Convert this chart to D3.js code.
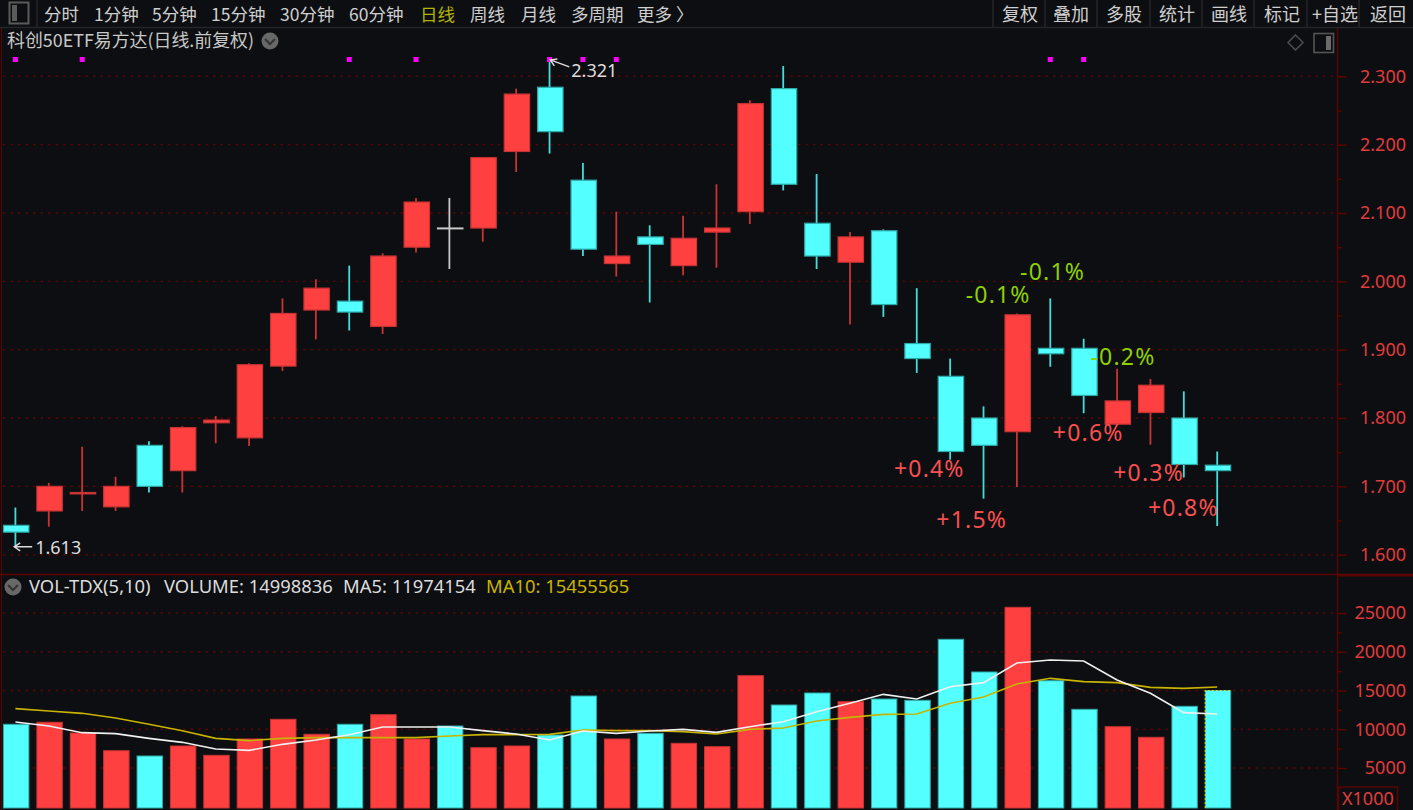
<!DOCTYPE html>
<html>
<head>
<meta charset="utf-8">
<title>科创50ETF易方达</title>
<script src="https://cdn.jsdelivr.net/npm/d3@7"></script>
<style>
  html, body { margin: 0; padding: 0; background: #0d0e11; overflow: hidden; }
  svg { display: block; font-family: "Noto Sans CJK SC", "Noto Sans", sans-serif; }
</style>
</head>
<body>
<svg id="canvas"></svg>
<script>
// candles, left to right. rising candles are red, falling ones cyan
let opens = [1.643, 1.664, 1.689, 1.670, 1.760, 1.723, 1.793, 1.771, 1.876, 1.958, 1.971, 1.934, 2.050, 2.078, 2.078, 2.190, 2.284, 2.148, 2.026, 2.065, 2.023, 2.072, 2.102, 2.282, 2.085, 2.028, 2.074, 1.909, 1.861, 1.800, 1.780, 1.902, 1.902, 1.791, 1.808, 1.800, 1.731];
let closes = [1.633, 1.700, 1.691, 1.700, 1.700, 1.786, 1.797, 1.878, 1.953, 1.990, 1.955, 2.037, 2.116, 2.078, 2.181, 2.274, 2.219, 2.047, 2.037, 2.054, 2.063, 2.078, 2.260, 2.142, 2.037, 2.065, 1.966, 1.887, 1.751, 1.760, 1.951, 1.894, 1.833, 1.825, 1.848, 1.732, 1.723];
let highs = [1.669, 1.705, 1.758, 1.714, 1.766, 1.788, 1.803, 1.880, 1.975, 2.003, 2.023, 2.041, 2.122, 2.122, 2.181, 2.282, 2.321, 2.173, 2.102, 2.082, 2.096, 2.142, 2.265, 2.315, 2.157, 2.072, 2.076, 1.990, 1.887, 1.817, 1.953, 1.975, 1.916, 1.872, 1.857, 1.839, 1.751];
let lows = [1.613, 1.641, 1.664, 1.664, 1.691, 1.691, 1.763, 1.759, 1.869, 1.915, 1.928, 1.923, 2.042, 2.018, 2.058, 2.160, 2.187, 2.037, 2.007, 1.969, 2.009, 2.020, 2.084, 2.133, 2.018, 1.937, 1.948, 1.866, 1.739, 1.682, 1.699, 1.875, 1.807, 1.791, 1.761, 1.713, 1.642];

// volume panel, in units of 1000
let volumes = [10640, 10900, 9516, 7232, 6548, 7839, 6639, 8742, 11284, 9348, 10640, 11877, 8742, 10419, 7619, 7839, 9258, 14290, 8742, 9477, 8187, 7748, 16910, 13129, 14677, 13555, 13903, 13735, 21606, 17387, 25735, 16265, 12574, 10329, 8961, 12961, 14999];
let ma5 = [10935, 10419, 9559, 9430, 8828, 8312, 7452, 7280, 8054, 8613, 9301, 10290, 10290, 10290, 9817, 9387, 8613, 9774, 9473, 9774, 9989, 9602, 10333, 10978, 12269, 13344, 14505, 13903, 15494, 16011, 18548, 18935, 18806, 16355, 14634, 12140, 11974];
let ma10 = [12656, 12355, 12054, 11452, 10634, 9817, 8828, 8527, 8828, 8914, 8914, 8914, 8914, 9129, 9301, 9301, 9344, 9903, 9817, 9817, 9688, 9387, 9989, 10161, 11064, 11538, 11925, 11968, 13344, 14161, 15839, 16570, 16140, 16011, 15408, 15279, 15456];

let priceTicks = [1.6, 1.7, 1.8, 1.9, 2.0, 2.1, 2.2, 2.3];
let priceMinorTicks = [1.65, 1.75, 1.85, 1.95, 2.05, 2.15, 2.25];
let volumeTicks = [5000, 10000, 15000, 20000, 25000];
let volumeMinorTicks = [2500, 7500, 12500, 17500, 22500];

// magenta flags along the top of the price panel
let flagBars = [0, 2, 10, 12, 16, 17, 18, 31, 32];

// percent notes over the last candles
let noteTexts = ["-0.1%", "-0.1%", "-0.2%", "+0.6%", "+0.4%", "+1.5%", "+0.3%", "+0.8%"];
let noteBars = [30, 31, 32, 33, 28, 29, 34, 36];
let notePrices = [1.969, 2.002, 1.877, 1.767, 1.714, 1.639, 1.708, 1.656];

let leftMenu = ["分时", "1分钟", "5分钟", "15分钟", "30分钟", "60分钟", "日线", "周线", "月线", "多周期", "更多 〉"];
let rightMenu = ["复权", "叠加", "多股", "统计", "画线", "标记", "+自选", "返回"];
let title = "科创50ETF易方达(日线.前复权)";

let width = 1413;
let height = 810;
let axisX = 1338;
let bodyWidth = 25.4;
let wickShift = -0.8;

let red = "#ff4040";
let redEdge = "#c83434";
let cyan = "#54ffff";
let cyanEdge = "#2fa8a8";
let gridColor = "#5c0404";
let tickColor = "#e03c3c";
let yellow = "#c8b400";

let canvas = d3.select("#canvas").attr("width", width).attr("height", height);

let xScale = d3.scaleLinear().domain([0, 36]).range([16.2, 1218]);
let priceScale = d3.scaleLinear().domain([1.6, 2.3]).range([554.7, 76.3]);
let volumeScale = d3.scaleLinear().domain([5000, 25000]).range([768, 613]);

let candleColor = (i) => {
  if (opens[i] === closes[i]) return "#c8c8c8";
  return closes[i] > opens[i] ? red : cyan;
};
let edgeColor = (i) => {
  if (opens[i] === closes[i]) return "#c8c8c8";
  return closes[i] > opens[i] ? redEdge : cyanEdge;
};

let drawGrid = () => {
  let grid = canvas.append("g").attr("stroke", gridColor).attr("stroke-width", 1.4).attr("stroke-dasharray", "2.5 5");
  priceTicks.forEach((t) => {
    grid.append("line").attr("x1", 3).attr("x2", axisX).attr("y1", priceScale(t)).attr("y2", priceScale(t));
  });
  volumeTicks.forEach((t) => {
    grid.append("line").attr("x1", 3).attr("x2", axisX).attr("y1", volumeScale(t)).attr("y2", volumeScale(t));
  });
};

let drawAxes = () => {
  let styleAxis = (g) => {
    g.select(".domain").remove();
    g.selectAll("line").attr("stroke", gridColor).attr("stroke-width", 1.4);
    g.selectAll("text")
      .attr("x", 68)
      .attr("text-anchor", "end")
      .attr("fill", tickColor)
      .attr("font-family", '"Noto Sans", sans-serif')
      .attr("font-size", 18);
  };

  canvas.append("g")
    .attr("transform", "translate(" + axisX + ",0)")
    .call(d3.axisRight(priceScale).tickValues(priceTicks).tickSize(9).tickFormat(d3.format(".3f")))
    .call(styleAxis);
  canvas.append("g")
    .attr("transform", "translate(" + axisX + ",0)")
    .call(d3.axisRight(priceScale).tickValues(priceMinorTicks).tickSize(4).tickFormat(""))
    .call(styleAxis);
  canvas.append("g")
    .attr("transform", "translate(" + axisX + ",0)")
    .call(d3.axisRight(volumeScale).tickValues(volumeTicks).tickSize(9).tickFormat(d3.format("d")))
    .call(styleAxis);
  canvas.append("g")
    .attr("transform", "translate(" + axisX + ",0)")
    .call(d3.axisRight(volumeScale).tickValues(volumeMinorTicks).tickSize(4).tickFormat(""))
    .call(styleAxis);

  // panel frame
  let frame = canvas.append("g").attr("stroke", gridColor).attr("fill", "none");
  frame.append("line").attr("x1", 1.5).attr("x2", 1.5).attr("y1", 28).attr("y2", height);
  frame.append("line").attr("x1", axisX - 0.5).attr("x2", axisX - 0.5).attr("y1", 28).attr("y2", height).attr("stroke-width", 1.4);
  frame.append("line").attr("x1", 0).attr("x2", width).attr("y1", 574.5).attr("y2", 574.5).attr("stroke-width", 1.4);
  frame.append("line").attr("x1", axisX).attr("x2", width).attr("y1", 575.5).attr("y2", 575.5).attr("stroke-width", 2);
  frame.append("rect").attr("x", axisX + 0.5).attr("y", 787).attr("width", 59).attr("height", 24).attr("stroke-width", 1.4);
  canvas.append("text")
    .attr("x", axisX + 4)
    .attr("y", 804.5)
    .attr("fill", tickColor)
    .attr("font-family", '"Noto Sans", sans-serif')
    .attr("font-size", 18)
    .text("X1000");
};

let drawCandles = () => {
  let candles = canvas.append("g").selectAll("g").data(d3.range(opens.length)).enter().append("g");

  candles.append("line")
    .attr("x1", (i) => xScale(i) + wickShift)
    .attr("x2", (i) => xScale(i) + wickShift)
    .attr("y1", (i) => priceScale(highs[i]))
    .attr("y2", (i) => priceScale(lows[i]))
    .attr("stroke", (i) => edgeColor(i) === cyanEdge ? "#46dcdc" : edgeColor(i))
    .attr("stroke-width", 1.8);

  // a flat candle still shows as a thin bar
  candles.append("rect")
    .attr("x", (i) => xScale(i) - bodyWidth / 2)
    .attr("y", (i) => priceScale(Math.max(opens[i], closes[i])))
    .attr("width", bodyWidth)
    .attr("height", (i) => Math.max(0.8, Math.abs(priceScale(opens[i]) - priceScale(closes[i]))))
    .attr("fill", (i) => candleColor(i))
    .attr("stroke", (i) => edgeColor(i))
    .attr("stroke-width", 1.2);

  canvas.append("g").selectAll("rect").data(flagBars).enter().append("rect")
    .attr("x", (i) => xScale(i) + wickShift - 2.5)
    .attr("y", 57)
    .attr("width", 5)
    .attr("height", 5)
    .attr("fill", "#ff00ff");
};

let drawExtremes = () => {
  let hi = d3.max(highs);
  let lo = d3.min(lows);
  let hiBar = highs.indexOf(hi);
  let loBar = lows.indexOf(lo);
  let arrow = canvas.append("g").attr("stroke", "#dddddd").attr("stroke-width", 1.4).attr("fill", "none");

  let hx = xScale(hiBar);
  let hy = priceScale(hi) - 2;
  arrow.append("path").attr("d", "M" + (hx + 19) + "," + (hy + 7) + "L" + hx + "," + hy + "M" + (hx + 7) + "," + (hy - 1) + "L" + hx + "," + hy + "L" + (hx + 4) + "," + (hy + 6));

  let lx = xScale(loBar) - 2;
  let ly = priceScale(lo) + 1;
  arrow.append("path").attr("d", "M" + (lx + 18) + "," + ly + "L" + lx + "," + ly + "M" + (lx + 6) + "," + (ly - 4) + "L" + lx + "," + ly + "L" + (lx + 6) + "," + (ly + 4));

  let label = canvas.append("g").attr("fill", "#dddddd").attr("font-family", '"Noto Sans", sans-serif').attr("font-size", 18);
  label.append("text").attr("x", hx + 21).attr("y", hy + 17).text(d3.format(".3f")(hi));
  label.append("text").attr("x", lx + 21).attr("y", ly + 7).text(d3.format(".3f")(lo));
};

let drawNotes = () => {
  // left edge of each note relative to its candle
  let noteShift = [-52, -31, 6, -65, -57, -48, -38, -70];
  canvas.append("g").selectAll("text").data(noteTexts).enter().append("text")
    .attr("x", (d, i) => xScale(noteBars[i]) + noteShift[i])
    .attr("y", (d, i) => priceScale(notePrices[i]))
    .attr("fill", (d) => d[0] === "-" ? "#8fd000" : "#f85050")
    .attr("font-family", '"Noto Sans", sans-serif')
    .attr("font-size", 23)
    .attr("letter-spacing", 1.2)
    .text((d) => d);
};

let drawVolume = () => {
  let bottom = 808;
  canvas.append("g").selectAll("rect").data(volumes).enter().append("rect")
    .attr("x", (d, i) => xScale(i) - bodyWidth / 2)
    .attr("y", (d) => volumeScale(d))
    .attr("width", bodyWidth)
    .attr("height", (d) => bottom - volumeScale(d))
    .attr("fill", (d, i) => closes[i] > opens[i] ? red : cyan)
    .attr("stroke", (d, i) => closes[i] > opens[i] ? redEdge : cyanEdge)
    .attr("stroke-width", 1);

  // dotted marker on the latest bar
  let last = volumes.length - 1;
  let lastX = xScale(last) - bodyWidth / 2;
  canvas.append("path")
    .attr("d", "M" + lastX + "," + bottom + "V" + volumeScale(volumes[last]) + "H" + (lastX + bodyWidth))
    .attr("fill", "none")
    .attr("stroke", "#d8d800")
    .attr("stroke-width", 1.2)
    .attr("stroke-dasharray", "2 2");

  let line = d3.line().x((d, i) => xScale(i) + wickShift).y((d) => volumeScale(d));
  canvas.append("path").attr("d", line(ma10)).attr("fill", "none").attr("stroke", yellow).attr("stroke-width", 1.6);
  canvas.append("path").attr("d", line(ma5)).attr("fill", "none").attr("stroke", "#f0f0f0").attr("stroke-width", 1.6);

  let head = canvas.append("g").attr("font-family", '"Noto Sans", sans-serif').attr("font-size", 18.4).attr("fill", "#dcdcdc");
  head.append("text").attr("x", 29).attr("y", 593).text("VOL-TDX(5,10)");
  head.append("text").attr("x", 164).attr("y", 593).text("VOLUME: " + 14998836);
  head.append("text").attr("x", 343).attr("y", 593).text("MA5: " + 11974154);
  head.append("text").attr("x", 486).attr("y", 593).attr("fill", yellow).text("MA10: " + 15455565);
};

let drawChevron = (cx, cy) => {
  canvas.append("circle").attr("cx", cx).attr("cy", cy).attr("r", 8.5).attr("fill", "#686868");
  canvas.append("path")
    .attr("d", "M" + (cx - 5) + "," + (cy - 2) + "L" + cx + "," + (cy + 3) + "L" + (cx + 5) + "," + (cy - 2))
    .attr("fill", "none")
    .attr("stroke", "#333333")
    .attr("stroke-width", 2);
};

let drawChrome = () => {
  canvas.append("line").attr("x1", 0).attr("x2", width).attr("y1", 27.5).attr("y2", 27.5).attr("stroke", "#24252a").attr("stroke-width", 1.5);

  // toggle icon, top left
  canvas.append("rect").attr("x", 9.5).attr("y", 2.5).attr("width", 19).attr("height", 21).attr("fill", "none").attr("stroke", "#5a5a5a").attr("stroke-width", 2);
  canvas.append("rect").attr("x", 12).attr("y", 5).attr("width", 5).attr("height", 16).attr("fill", "#5a5a5a");
  canvas.append("line").attr("x1", 37).attr("x2", 37).attr("y1", 0).attr("y2", 27).attr("stroke", "#24252a").attr("stroke-width", 1.5);

  let leftX = [44, 94, 152, 211, 280, 349, 420, 470, 521, 571, 637];
  canvas.append("g").selectAll("text").data(leftMenu).enter().append("text")
    .attr("x", (d, i) => leftX[i])
    .attr("y", 20.5)
    .attr("font-size", 17.5)
    .attr("fill", (d) => d === "日线" ? "#b4b400" : "#cfcfcf")
    .text((d) => d);

  let rightX = [1002, 1053, 1106, 1159, 1211, 1264, 1312, 1370];
  canvas.append("g").selectAll("text").data(rightMenu).enter().append("text")
    .attr("x", (d, i) => rightX[i])
    .attr("y", 21)
    .attr("font-size", 18)
    .attr("fill", "#cfcfcf")
    .text((d) => d);
  [993, 1045, 1097, 1150, 1202, 1254, 1307, 1359].forEach((x) => {
    canvas.append("line").attr("x1", x).attr("x2", x).attr("y1", 0).attr("y2", 27).attr("stroke", "#24252a").attr("stroke-width", 1.5);
  });

  canvas.append("text").attr("x", 7).attr("y", 47).attr("font-size", 17.9).attr("fill", "#c8c8c8").text(title);
  drawChevron(270, 41);
  drawChevron(13, 587);

  canvas.append("path").attr("d", "M1295.5,35L1303,42.5L1295.5,50L1288,42.5Z").attr("fill", "none").attr("stroke", "#4a4a4a").attr("stroke-width", 1.6);
  canvas.append("rect").attr("x", 1314).attr("y", 33.5).attr("width", 19.5).attr("height", 19).attr("fill", "none").attr("stroke", "#555555").attr("stroke-width", 1.6);
  canvas.append("rect").attr("x", 1326).attr("y", 36).attr("width", 5).attr("height", 14).attr("fill", "#6a6a6a");
};

drawGrid();
drawAxes();
drawVolume();
drawCandles();
drawExtremes();
drawNotes();
drawChrome();
</script>
</body>
</html>
